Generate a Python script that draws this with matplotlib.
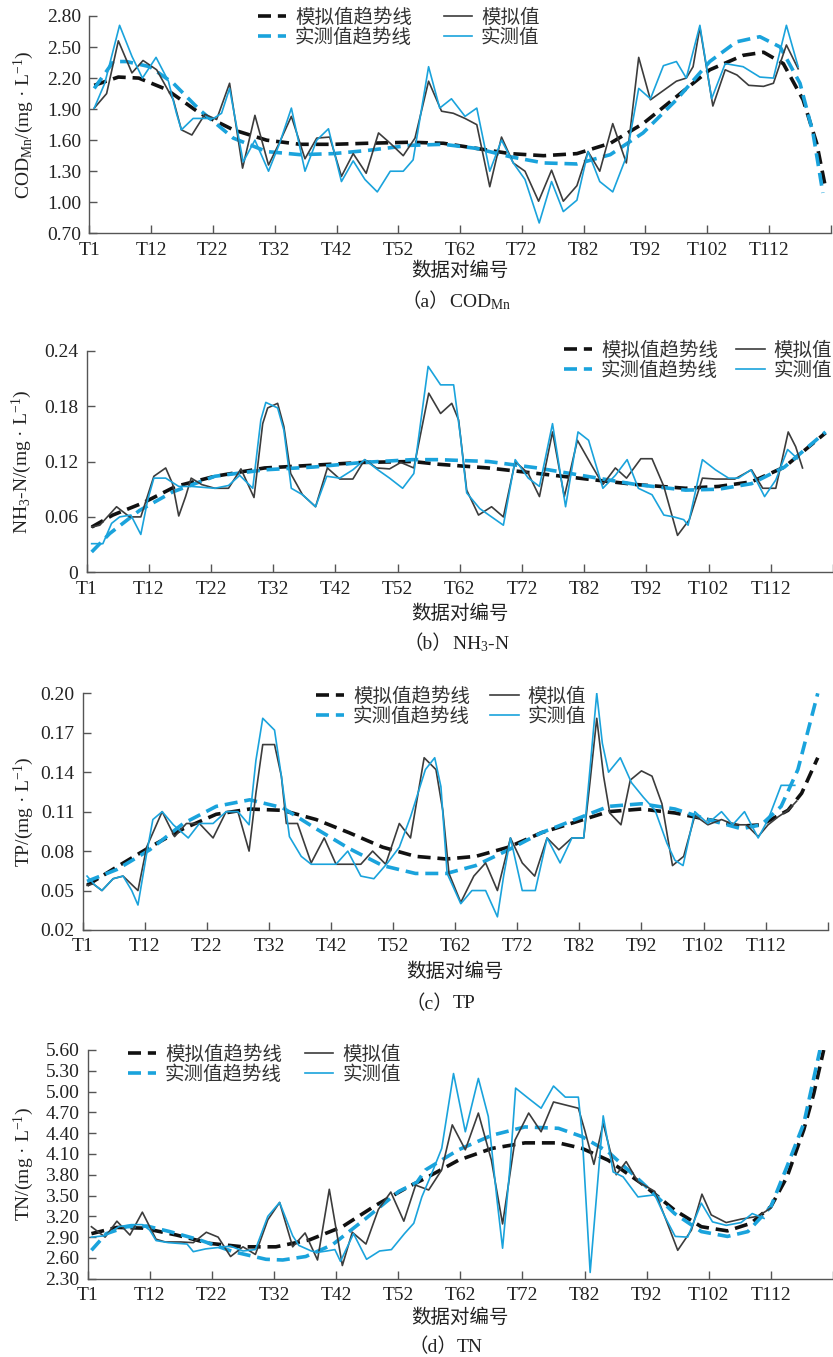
import matplotlib
matplotlib.use('Agg')
import matplotlib.pyplot as plt

# ---- data (x = position in data-pair index units, axis spans 0..120) ----
x_ticks = list(range(0, 121, 10))
x_labels = ['T1', 'T12', 'T22', 'T32', 'T42', 'T52', 'T62', 'T72', 'T82', 'T92', 'T102', 'T112', '']

# (a) COD_Mn
a_sim_x = [0.8, 2.8, 4.7, 6.9, 8.7, 10.9, 13.6, 14.9, 16.6, 18.7, 20.6, 22.7, 24.8, 26.8, 29.0, 30.8, 32.7, 34.9,
           36.8, 38.9, 40.8, 42.7, 44.8, 46.8, 48.7, 50.8, 52.7, 54.9, 57.0, 58.9, 60.8, 62.7, 64.8, 66.7, 68.6,
           70.5, 72.7, 74.8, 76.7, 78.9, 80.7, 82.6, 84.7, 86.9, 88.9, 90.8, 92.9, 95.0, 96.6, 97.7, 98.8, 100.9,
           102.9, 104.8, 106.7, 109.1, 110.7, 112.8, 114.7]
a_sim_y = [1.91, 2.05, 2.56, 2.25, 2.37, 2.28, 1.99, 1.70, 1.65, 1.85, 1.80, 2.15, 1.33, 1.84, 1.36, 1.58, 1.83, 1.42,
           1.62, 1.63, 1.25, 1.47, 1.28, 1.67, 1.57, 1.45, 1.62, 2.17, 1.88, 1.86, 1.81, 1.75, 1.15, 1.63, 1.38,
           1.30, 1.01, 1.31, 1.01, 1.16, 1.49, 1.30, 1.76, 1.38, 2.40, 1.99, 2.08, 2.17, 2.20, 2.31, 2.69, 1.93,
           2.28, 2.23, 2.13, 2.12, 2.15, 2.52, 2.29]
a_obs_x = [0.8, 2.5, 4.9, 6.9, 8.6, 10.8, 12.8, 14.1, 14.9, 16.8, 20.1, 21.4, 22.7, 24.9, 26.8, 29.0, 30.8, 32.7,
           34.9, 36.8, 38.7, 40.8, 42.7, 44.6, 46.6, 48.7, 50.8, 52.4, 54.9, 56.7, 58.6, 60.8, 62.7, 64.8, 66.7,
           68.6, 70.5, 72.8, 74.8, 76.7, 78.9, 80.7, 82.6, 84.7, 86.9, 88.9, 90.8, 92.9, 95.0, 96.6, 98.8, 100.7,
           102.9, 105.8, 108.5, 110.7, 112.8, 114.7]
a_obs_y = [1.91, 2.15, 2.71, 2.41, 2.20, 2.40, 2.17, 1.86, 1.70, 1.81, 1.81, 1.86, 2.10, 1.39, 1.60, 1.30, 1.57, 1.91,
           1.30, 1.60, 1.71, 1.20, 1.40, 1.22, 1.10, 1.30, 1.30, 1.41, 2.31, 1.91, 2.00, 1.83, 1.91, 1.30, 1.60,
           1.38, 1.22, 0.80, 1.20, 0.91, 1.02, 1.49, 1.20, 1.10, 1.44, 2.10, 2.00, 2.32, 2.36, 2.20, 2.71, 2.00,
           2.34, 2.31, 2.21, 2.20, 2.71, 2.31]
a_simtr_x = [0.8, 4.7, 8.0, 12.5, 17.9, 23.3, 28.7, 34.1, 39.5, 44.9, 51.9, 57.3, 62.7, 68.1, 73.5, 78.9, 84.3,
             89.6, 95.0, 100.4, 105.8, 109.1, 112.3, 115.5, 117.7, 119.0]
a_simtr_y = [2.13, 2.21, 2.20, 2.09, 1.86, 1.70, 1.60, 1.56, 1.56, 1.57, 1.58, 1.57, 1.52, 1.47, 1.45, 1.47, 1.57,
             1.76, 2.02, 2.28, 2.42, 2.45, 2.34, 1.99, 1.57, 1.18]
a_obstr_x = [0.8, 3.9, 6.0, 9.8, 13.6, 17.9, 23.3, 28.7, 34.1, 39.5, 44.9, 51.9, 57.3, 62.7, 68.1, 73.5, 78.9,
             84.3, 89.6, 95.0, 100.4, 104.7, 108.5, 111.8, 115.0, 117.1, 118.7]
a_obstr_y = [2.10, 2.36, 2.36, 2.31, 2.15, 1.89, 1.62, 1.49, 1.46, 1.47, 1.50, 1.55, 1.56, 1.52, 1.44, 1.38, 1.37,
             1.46, 1.67, 1.99, 2.36, 2.55, 2.60, 2.50, 2.15, 1.67, 1.09]

# (b) NH3-N
b_sim_x = [0.8, 2.1, 4.8, 6.9, 8.7, 10.8, 12.7, 13.8, 14.8, 15.9, 16.8, 18.5, 20.6, 22.8, 24.8, 26.9, 28.3, 29.1,
           30.7, 31.7, 32.8, 34.7, 36.8, 38.7, 40.7, 42.8, 44.7, 46.6, 48.7, 50.5, 52.6, 55.0, 56.9, 58.7, 59.8,
           61.1, 63.0, 65.1, 67.0, 68.9, 71.0, 72.8, 74.9, 76.8, 78.9, 81.0, 83.0, 85.0, 86.8, 89.1, 90.9, 92.8,
           95.0, 96.9, 99.0, 101.1, 104.2, 106.9, 108.7, 110.8, 112.8, 114.0, 115.1]
b_sim_y = [0.049, 0.051, 0.071, 0.060, 0.060, 0.104, 0.113, 0.096, 0.061, 0.082, 0.102, 0.095, 0.091, 0.091, 0.112,
           0.081, 0.161, 0.178, 0.183, 0.158, 0.107, 0.084, 0.071, 0.113, 0.101, 0.101, 0.122, 0.113, 0.112, 0.119,
           0.113, 0.194, 0.172, 0.183, 0.165, 0.089, 0.062, 0.071, 0.060, 0.120, 0.107, 0.082, 0.152, 0.082, 0.143,
           0.118, 0.095, 0.113, 0.102, 0.123, 0.123, 0.093, 0.040, 0.057, 0.102, 0.101, 0.101, 0.111, 0.091, 0.091,
           0.152, 0.136, 0.113]
b_obs_x = [0.8, 2.6, 4.0, 5.3, 7.1, 8.7, 9.8, 10.8, 12.7, 14.8, 16.9, 20.6, 22.8, 24.6, 26.7, 28.0, 28.8, 30.7,
           31.7, 32.9, 34.7, 36.8, 38.6, 40.7, 42.8, 44.7, 46.8, 48.7, 50.8, 52.6, 54.9, 56.9, 59.0, 60.1, 61.1,
           63.2, 65.1, 67.0, 68.9, 71.0, 72.8, 74.9, 77.0, 79.0, 80.7, 83.0, 85.0, 86.9, 88.7, 90.9, 92.8, 94.4,
           96.0, 96.7, 99.0, 101.1, 103.2, 104.8, 106.8, 109.0, 110.8, 112.7, 114.3]
b_obs_y = [0.031, 0.031, 0.053, 0.060, 0.062, 0.041, 0.078, 0.102, 0.102, 0.093, 0.093, 0.091, 0.094, 0.105, 0.091,
           0.165, 0.184, 0.178, 0.154, 0.091, 0.084, 0.071, 0.104, 0.102, 0.111, 0.122, 0.111, 0.102, 0.091, 0.107,
           0.223, 0.203, 0.203, 0.147, 0.086, 0.069, 0.060, 0.051, 0.122, 0.102, 0.093, 0.161, 0.071, 0.152, 0.143,
           0.091, 0.105, 0.122, 0.091, 0.084, 0.062, 0.060, 0.057, 0.051, 0.122, 0.111, 0.102, 0.102, 0.111, 0.082,
           0.100, 0.133, 0.123]
b_simtr_x = [0.8, 4.2, 9.0, 14.3, 20.6, 28.6, 36.5, 44.4, 52.4, 56.6, 64.6, 72.5, 80.4, 88.4, 96.3, 101.6, 106.9,
             112.2, 118.8]
b_simtr_y = [0.049, 0.062, 0.075, 0.093, 0.104, 0.113, 0.116, 0.119, 0.120, 0.117, 0.113, 0.107, 0.101, 0.095,
             0.091, 0.093, 0.098, 0.114, 0.151]
b_obstr_x = [0.8, 3.7, 8.5, 13.8, 20.6, 28.6, 36.5, 44.4, 52.4, 56.6, 64.6, 72.5, 80.4, 88.4, 96.3, 101.6, 106.9,
             112.2, 118.8]
b_obstr_y = [0.022, 0.042, 0.067, 0.087, 0.104, 0.111, 0.114, 0.119, 0.122, 0.122, 0.120, 0.113, 0.104, 0.095,
             0.089, 0.090, 0.096, 0.114, 0.152]

# (c) TP
c_sim_x = [0.7, 1.7, 3.1, 4.9, 6.5, 8.9, 10.3, 12.8, 14.8, 16.7, 18.8, 21.0, 23.1, 25.0, 26.8, 27.9, 29.0, 30.9,
           32.0, 32.8, 34.6, 36.8, 38.9, 40.8, 42.9, 44.8, 46.7, 48.8, 51.0, 52.8, 55.0, 56.9, 58.0, 59.0, 60.9,
           63.0, 64.9, 66.8, 68.9, 70.8, 72.8, 74.8, 76.7, 78.8, 80.7, 81.7, 82.8, 83.9, 84.9, 86.7, 88.2, 90.0,
           91.7, 93.3, 95.0, 96.8, 98.6, 100.7, 102.9, 105.0, 106.9, 108.8, 110.4, 112.0, 113.6, 115.0]
c_sim_y = [0.054, 0.055, 0.050, 0.059, 0.061, 0.050, 0.083, 0.110, 0.091, 0.101, 0.101, 0.090, 0.110, 0.110, 0.080,
           0.124, 0.161, 0.161, 0.137, 0.101, 0.101, 0.071, 0.090, 0.070, 0.070, 0.070, 0.080, 0.070, 0.101, 0.090,
           0.151, 0.142, 0.111, 0.063, 0.041, 0.061, 0.071, 0.050, 0.090, 0.071, 0.061, 0.090, 0.081, 0.090, 0.090,
           0.132, 0.181, 0.137, 0.109, 0.100, 0.134, 0.141, 0.137, 0.116, 0.069, 0.076, 0.107, 0.100, 0.104, 0.100,
           0.100, 0.091, 0.100, 0.106, 0.111, 0.118]
c_obs_x = [0.7, 2.0, 3.1, 4.9, 6.5, 7.9, 8.9, 10.3, 11.3, 12.8, 14.6, 17.0, 18.8, 21.0, 23.1, 25.0, 26.8, 27.9,
           29.0, 30.9, 32.0, 33.3, 35.2, 36.8, 40.8, 42.7, 44.8, 46.9, 49.1, 51.0, 52.8, 55.2, 56.7, 57.7, 58.7,
           60.9, 62.7, 64.9, 66.8, 67.8, 68.9, 70.8, 72.9, 74.8, 76.9, 78.8, 80.7, 81.7, 82.8, 83.7, 84.7, 86.6,
           88.4, 90.3, 92.2, 94.1, 95.4, 96.7, 98.6, 100.7, 102.9, 104.7, 106.6, 108.8, 110.4, 112.5, 114.7]
c_obs_y = [0.061, 0.054, 0.050, 0.059, 0.061, 0.050, 0.039, 0.078, 0.104, 0.110, 0.100, 0.090, 0.101, 0.101, 0.110,
           0.110, 0.100, 0.149, 0.181, 0.172, 0.137, 0.091, 0.076, 0.070, 0.070, 0.080, 0.061, 0.059, 0.071, 0.083,
           0.106, 0.142, 0.151, 0.129, 0.063, 0.040, 0.050, 0.050, 0.030, 0.061, 0.090, 0.050, 0.050, 0.090, 0.071,
           0.090, 0.090, 0.142, 0.200, 0.162, 0.140, 0.151, 0.132, 0.121, 0.111, 0.086, 0.073, 0.069, 0.110, 0.101,
           0.110, 0.100, 0.110, 0.090, 0.104, 0.130, 0.130]
c_simtr_x = [0.7, 5.5, 10.8, 16.2, 21.5, 26.9, 32.2, 37.6, 42.9, 48.3, 53.6, 58.6, 63.3, 68.6, 73.9, 79.3, 84.7,
             90.0, 95.4, 100.7, 106.1, 109.3, 113.6, 115.8, 118.4]
c_simtr_y = [0.054, 0.068, 0.083, 0.097, 0.108, 0.112, 0.111, 0.104, 0.094, 0.083, 0.076, 0.074, 0.076, 0.083,
             0.094, 0.102, 0.110, 0.112, 0.109, 0.104, 0.099, 0.100, 0.111, 0.124, 0.151]
c_obstr_x = [0.7, 5.5, 10.8, 16.2, 21.5, 26.9, 32.2, 37.6, 42.9, 48.3, 53.6, 58.6, 63.3, 68.6, 73.9, 79.3, 84.7,
             90.0, 95.4, 100.7, 106.1, 109.3, 112.5, 115.2, 118.4]
c_obstr_y = [0.057, 0.066, 0.081, 0.101, 0.114, 0.119, 0.113, 0.097, 0.082, 0.069, 0.063, 0.063, 0.069, 0.081,
             0.094, 0.104, 0.114, 0.116, 0.112, 0.104, 0.097, 0.100, 0.114, 0.142, 0.200]

# (d) TN
d_sim_x = [0.6, 2.8, 4.7, 6.8, 8.8, 11.0, 12.5, 15.0, 17.0, 19.1, 21.0, 23.0, 25.0, 27.0, 29.0, 30.9, 33.0, 35.0,
           37.0, 38.9, 41.0, 42.6, 44.8, 46.8, 48.8, 50.9, 52.8, 54.9, 57.0, 58.7, 60.8, 62.9, 65.0, 66.8, 68.8,
           71.0, 73.0, 75.0, 79.0, 80.0, 81.5, 83.0, 85.1, 86.7, 88.6, 91.3, 92.9, 95.0, 97.2, 98.9, 100.4, 102.8,
           105.2, 107.9, 110.0]
d_sim_y = [3.05, 2.90, 3.13, 2.93, 3.26, 2.87, 2.83, 2.83, 2.82, 2.97, 2.90, 2.62, 2.76, 2.65, 3.15, 3.40, 2.76,
           2.96, 2.57, 3.59, 2.49, 2.97, 2.80, 3.30, 3.55, 3.13, 3.65, 3.58, 3.87, 4.52, 4.16, 4.69, 4.01, 3.09,
           4.30, 4.69, 4.42, 4.85, 4.76, 4.45, 3.95, 4.54, 3.80, 3.99, 3.70, 3.56, 3.20, 2.71, 3.00, 3.52, 3.22,
           3.11, 3.16, 3.20, 3.32]
d_obs_x = [0.6, 2.8, 5.0, 7.0, 8.8, 10.0, 11.0, 13.0, 16.0, 17.0, 19.0, 21.0, 23.0, 25.0, 27.0, 29.0, 30.9, 33.0,
           34.0, 36.0, 37.0, 38.5, 39.8, 40.7, 42.8, 44.9, 47.0, 48.9, 51.0, 52.5, 53.8, 55.4, 57.0, 58.9, 60.8,
           62.9, 64.5, 65.9, 66.8, 68.0, 68.9, 71.0, 73.0, 75.0, 76.9, 79.0, 79.6, 80.9, 83.0, 84.6, 86.2, 88.6,
           91.3, 92.9, 94.6, 96.6, 98.8, 100.6, 102.8, 105.2, 107.0, 108.9]
d_obs_y = [2.90, 2.92, 3.05, 3.08, 3.08, 3.00, 2.85, 2.82, 2.80, 2.69, 2.73, 2.75, 2.77, 2.70, 2.72, 3.20, 3.40,
           2.92, 2.78, 2.70, 2.68, 2.70, 2.72, 2.55, 2.95, 2.58, 2.70, 2.72, 2.95, 3.10, 3.48, 3.82, 4.18, 5.26,
           4.42, 5.19, 4.64, 3.44, 2.74, 3.92, 5.05, 4.90, 4.76, 5.08, 4.92, 4.92, 4.40, 2.39, 4.65, 3.84, 3.77,
           3.48, 3.51, 3.20, 2.91, 2.90, 3.39, 3.12, 3.07, 3.11, 3.24, 3.17]
d_simtr_x = [0.6, 4.7, 8.9, 14.3, 19.6, 25.0, 30.3, 35.7, 41.0, 46.4, 51.7, 54.4, 59.7, 65.1, 70.4, 75.8, 79.6,
             83.8, 89.1, 94.5, 98.8, 103.0, 106.8, 110.0, 112.6, 115.3, 116.9, 118.5]
d_simtr_y = [2.95, 3.04, 3.03, 2.93, 2.81, 2.76, 2.76, 2.86, 3.05, 3.36, 3.63, 3.75, 4.01, 4.18, 4.26, 4.26, 4.18,
             4.01, 3.68, 3.29, 3.05, 2.99, 3.10, 3.34, 3.77, 4.45, 4.97, 5.60]
d_obstr_x = [0.6, 3.0, 6.3, 9.5, 13.2, 18.0, 23.4, 28.7, 31.4, 35.1, 39.4, 44.8, 50.1, 53.0, 54.4, 59.7, 65.1,
             70.4, 75.8, 79.6, 83.8, 89.1, 94.5, 98.8, 103.0, 106.3, 110.0, 112.6, 115.3, 117.9]
d_obstr_y = [2.71, 2.95, 3.05, 3.06, 2.98, 2.86, 2.69, 2.58, 2.57, 2.62, 2.79, 3.17, 3.56, 3.69, 3.87, 4.16, 4.37,
             4.49, 4.47, 4.35, 4.13, 3.70, 3.24, 2.98, 2.91, 2.98, 3.34, 3.92, 4.54, 5.60]

legend_labels = ['模拟值趋势线', '实测值趋势线', '模拟值', '实测值']
xlabel = '数据对编号'

# ---- style ----
W, H = 833, 1357
BLUE = '#1aa3dc'
DARK = '#3c3c3c'
TXT = '#222222'
plt.rcParams['font.family'] = ['Liberation Serif', 'Noto Sans CJK SC']
plt.rcParams['mathtext.fontset'] = 'custom'
plt.rcParams['mathtext.rm'] = 'Liberation Serif'
plt.rcParams['mathtext.it'] = 'Liberation Serif:italic'

fig = plt.figure(figsize=(W / 100, H / 100), dpi=100)


def fx(px):
    return px / W


def fy(py):
    return 1 - py / H


def panel(box, xmax, ylim, yticks, yfmt, series, ylabel, ylabel_x, leg_xy, colsp, xl_y, cap, cap_y, cap_split):
    left, top, right, bottom = box
    ax = fig.add_axes([fx(left), fy(bottom), fx(right - left), (bottom - top) / H])
    sim, obs, simtr, obstr = series
    h1, = ax.plot(*simtr, color='#111111', lw=2.6, dashes=(3.6, 1.9))
    h2, = ax.plot(*obstr, color=BLUE, lw=2.6, dashes=(3.6, 1.9))
    h3, = ax.plot(*sim, color=DARK, lw=1.2, solid_joinstyle='round')
    h4, = ax.plot(*obs, color=BLUE, lw=1.2, solid_joinstyle='round')
    ax.set_xlim(0, xmax)
    ax.set_ylim(*ylim)
    ax.set_xticks(x_ticks)
    ax.set_xticklabels(x_labels)
    ax.set_yticks(yticks)
    ax.set_yticklabels([yfmt(v) for v in yticks])
    for s in ['top', 'right']:
        ax.spines[s].set_visible(False)
    for s in ['left', 'bottom']:
        ax.spines[s].set_color('#555555')
        ax.spines[s].set_linewidth(1.0)
    ax.tick_params(direction='in', length=6, width=1, color='#555555', labelsize=14, labelcolor=TXT)
    ax.tick_params(axis='x', pad=6)
    ax.tick_params(axis='y', pad=6)
    ax.patch.set_visible(False)
    ax.legend([h1, h2, h3, h4], legend_labels, ncol=2, loc='upper left',
              bbox_to_anchor=(fx(leg_xy[0]), fy(leg_xy[1])), bbox_transform=fig.transFigure,
              frameon=False, fontsize=14, borderpad=0, borderaxespad=0, handlelength=1.45,
              handletextpad=0.45, labelspacing=0.12, columnspacing=colsp, labelcolor='#333333')
    fig.text(fx(ylabel_x), fy((top + bottom) / 2), ylabel, rotation=90, ha='center', va='center',
             fontsize=14, color=TXT)
    cx = fx((left + min(right, left + 120 * (right - left) / xmax)) / 2)
    fig.text(cx, fy(xl_y), xlabel, ha='center', va='center', fontsize=14, color=TXT)
    # caption: CJK brackets and the (math) name are drawn as two pieces
    fig.text(fx(cap_split), fy(cap_y), cap[0], ha='right', va='center', fontsize=14, color=TXT)
    fig.text(fx(cap_split), fy(cap_y), cap[1], ha='left', va='center', fontsize=14, color=TXT)


panel((89.3, 16, 830.9, 233.3), 120, (0.70, 2.80), [0.70, 1.00, 1.30, 1.60, 1.90, 2.20, 2.50, 2.80],
      lambda v: f'{v:.2f}',
      ((a_sim_x, a_sim_y), (a_obs_x, a_obs_y), (a_simtr_x, a_simtr_y), (a_obstr_x, a_obstr_y)),
      'COD$_{\\mathregular{Mn}}$/(mg · L$^{-1}$)', 24, (258, 8), 1.65, 271,
      ('（a）', 'COD$_{\\mathregular{Mn}}$'), 302, 449)

panel((86.7, 350.7, 833, 572.3), 118.8, (0, 0.24), [0, 0.06, 0.12, 0.18, 0.24],
      lambda v: '0' if v == 0 else f'{v:.2f}',
      ((b_sim_x, b_sim_y), (b_obs_x, b_obs_y), (b_simtr_x, b_simtr_y), (b_obstr_x, b_obstr_y)),
      'NH$_3$-N/(mg · L$^{-1}$)', 22, (564, 341), 0.95, 614, ('（b）', 'NH$_3$-N'), 644, 452)

panel((82.7, 693.3, 827.7, 930), 120, (0.02, 0.20), [0.02, 0.05, 0.08, 0.11, 0.14, 0.17, 0.20],
      lambda v: f'{v:.2f}',
      ((c_sim_x, c_sim_y), (c_obs_x, c_obs_y), (c_simtr_x, c_simtr_y), (c_obstr_x, c_obstr_y)),
      'TP/(mg · L$^{-1}$)', 24, (316, 687), 1.05, 972, ('（c）', 'TP'), 1004, 453)

panel((87.7, 1050, 833, 1278.7), 119.4, (2.30, 5.60),
      [2.30, 2.60, 2.90, 3.20, 3.50, 3.80, 4.10, 4.40, 4.70, 5.00, 5.30, 5.60],
      lambda v: f'{v:.2f}',
      ((d_sim_x, d_sim_y), (d_obs_x, d_obs_y), (d_simtr_x, d_simtr_y), (d_obstr_x, d_obstr_y)),
      'TN/(mg · L$^{-1}$)', 24, (128, 1045), 1.2, 1318, ('（d）', 'TN'), 1347, 457)

fig.savefig('out.png', dpi=100)
